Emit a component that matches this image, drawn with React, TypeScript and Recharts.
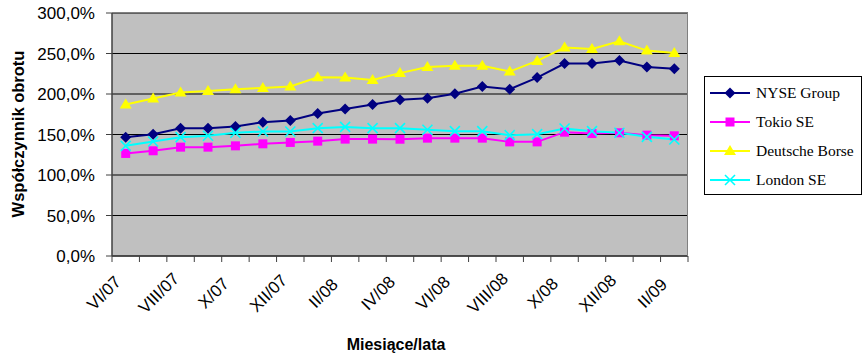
import React from 'react';
import { LineChart, Line, XAxis, YAxis, CartesianGrid } from 'recharts';

const months = ['VI/07', 'VII/07', 'VIII/07', 'IX/07', 'X/07', 'XI/07', 'XII/07', 'I/08', 'II/08', 'III/08', 'IV/08', 'V/08', 'VI/08', 'VII/08', 'VIII/08', 'IX/08', 'X/08', 'XI/08', 'XII/08', 'I/09', 'II/09'];
const nyse = [146.7, 150.4, 157.8, 157.8, 159.9, 165.2, 167.3, 175.9, 181.6, 187.0, 192.8, 194.8, 200.2, 209.2, 205.9, 220.3, 237.6, 237.6, 241.3, 233.4, 231.3];
const tokio = [126.6, 129.9, 134.4, 134.4, 136.0, 138.5, 140.2, 141.8, 144.3, 144.3, 144.2, 145.5, 145.5, 145.5, 140.9, 140.9, 152.9, 151.2, 152.1, 149.2, 148.4];
const deutsche = [187.0, 194.4, 201.8, 203.8, 205.9, 207.5, 209.2, 220.7, 220.3, 217.4, 225.8, 233.4, 235.0, 235.0, 227.7, 240.8, 257.3, 255.7, 265.1, 253.6, 250.7];
const london = [136.0, 141.4, 146.7, 148.4, 152.1, 153.7, 153.7, 157.8, 159.4, 157.8, 157.8, 155.8, 154.1, 154.1, 149.2, 150.4, 157.4, 154.1, 152.1, 147.1, 143.9];
const yTicks = [0, 50, 100, 150, 200, 250, 300];

const series = [
  { key: 'nyse', name: 'NYSE Group', color: '#000080', shape: 'diamond' },
  { key: 'tokio', name: 'Tokio SE', color: '#FF00FF', shape: 'square' },
  { key: 'deutsche', name: 'Deutsche Borse', color: '#FFFF00', shape: 'triangle' },
  { key: 'london', name: 'London SE', color: '#00FFFF', shape: 'cross' },
];

const data = months.map((m, i) => ({
  m,
  nyse: nyse[i],
  tokio: tokio[i],
  deutsche: deutsche[i],
  london: london[i],
}));

const PLOT_W = 576;
const STEP = PLOT_W / months.length;

const Marker = ({ cx, cy, shape, color }: any) => {
  if (cx == null || cy == null) return null;
  if (shape === 'diamond') {
    return <polygon points={`${cx},${cy - 5.5} ${cx + 5.5},${cy} ${cx},${cy + 5.5} ${cx - 5.5},${cy}`} fill={color} />;
  }
  if (shape === 'square') {
    return <rect x={cx - 4.5} y={cy - 4.5} width={9} height={9} fill={color} />;
  }
  if (shape === 'triangle') {
    return <polygon points={`${cx},${cy - 6} ${cx + 6},${cy + 4} ${cx - 6},${cy + 4}`} fill={color} />;
  }
  return (
    <g stroke={color} strokeWidth={1.6}>
      <line x1={cx - 5} y1={cy - 5} x2={cx + 5} y2={cy + 5} />
      <line x1={cx - 5} y1={cy + 5} x2={cx + 5} y2={cy - 5} />
    </g>
  );
};

// tick marks between categories, rotated label on every second month
const MonthTick = ({ x, y, index, payload }: any) => {
  const left = x - STEP / 2;
  return (
    <g>
      <line x1={left} y1={y} x2={left} y2={y + 6} stroke="#404040" />
      {index === months.length - 1 && (
        <line x1={x + STEP / 2} y1={y} x2={x + STEP / 2} y2={y + 6} stroke="#404040" />
      )}
      {index % 2 === 0 && (
        <g transform={`translate(${x - 22}, ${y + 37}) rotate(-45)`}>
          <text
            x={0}
            y={0}
            dy="0.35em"
            textAnchor="middle"
            fontSize={17}
            fontFamily="'Liberation Sans', Arial, sans-serif"
            fill="#000"
          >
            {payload.value}
          </text>
        </g>
      )}
    </g>
  );
};

export default function App() {
  return (
    <div style={{ position: 'absolute', left: 0, top: 0, width: 863, height: 357, background: '#fff', fontFamily: "'Liberation Sans', Arial, sans-serif" }}>
      <LineChart width={863} height={357} data={data} margin={{ top: 13, right: 175, bottom: 71, left: 0 }}>
        <CartesianGrid vertical={false} stroke="#000" fill="#C0C0C0" fillOpacity={1} />
        <XAxis
          dataKey="m"
          height={30}
          interval={0}
          tickSize={0}
          tickMargin={0}
          tickLine={false}
          padding={{ left: STEP / 2, right: STEP / 2 }}
          axisLine={{ stroke: '#404040', strokeWidth: 1.5 }}
          tick={<MonthTick />}
        />
        <YAxis
          width={112}
          domain={[0, 300]}
          ticks={yTicks}
          tickSize={6}
          tickMargin={11}
          axisLine={{ stroke: '#404040', strokeWidth: 1.5 }}
          tickLine={{ stroke: '#404040' }}
          tick={{ fontSize: 17, fill: '#000', fontFamily: "'Liberation Sans', Arial, sans-serif" }}
          tickFormatter={(v) => `${v.toFixed(1).replace('.', ',')}%`}
        />
        {series.map((s) => (
          <Line
            key={s.key}
            dataKey={s.key}
            name={s.name}
            stroke={s.color}
            strokeWidth={2}
            isAnimationActive={false}
            dot={(p: any) => <Marker key={`${s.key}-${p.index}`} cx={p.cx} cy={p.cy} shape={s.shape} color={s.color} />}
            activeDot={false}
          />
        ))}
      </LineChart>

      {/* plot border top/right */}
      <div style={{ position: 'absolute', left: 112, top: 12, width: 576, height: 244, borderTop: '1.5px solid #808080', borderRight: '1.5px solid #808080', boxSizing: 'border-box', pointerEvents: 'none' }} />

      <div style={{ position: 'absolute', left: 296, top: 336, width: 200, textAlign: 'center', fontWeight: 'bold', fontSize: 16 }}>
        Miesiące/lata
      </div>
      <div style={{ position: 'absolute', left: 18, top: 134, width: 0, height: 0 }}>
        <div style={{ position: 'absolute', left: -120, top: -10, width: 240, textAlign: 'center', fontWeight: 'bold', fontSize: 16.5, lineHeight: '20px', transform: 'rotate(-90deg)' }}>
          Współczynnik obrotu
        </div>
      </div>

      <svg style={{ position: 'absolute', left: 704, top: 76 }} width={159} height={120}>
        <rect x={0.5} y={0.5} width={157} height={118} fill="#fff" stroke="#000" />
        {series.map((s, i) => {
          const cy = 17 + i * 29;
          return (
            <g key={s.key}>
              <line x1={6} y1={cy} x2={46} y2={cy} stroke={s.color} strokeWidth={2} />
              <Marker cx={26} cy={cy} shape={s.shape} color={s.color} />
              <text x={52} y={cy + 5} fontSize={15.5} fontFamily="'Liberation Serif', 'Times New Roman', serif" fill="#000">
                {s.name}
              </text>
            </g>
          );
        })}
      </svg>
    </div>
  );
}
